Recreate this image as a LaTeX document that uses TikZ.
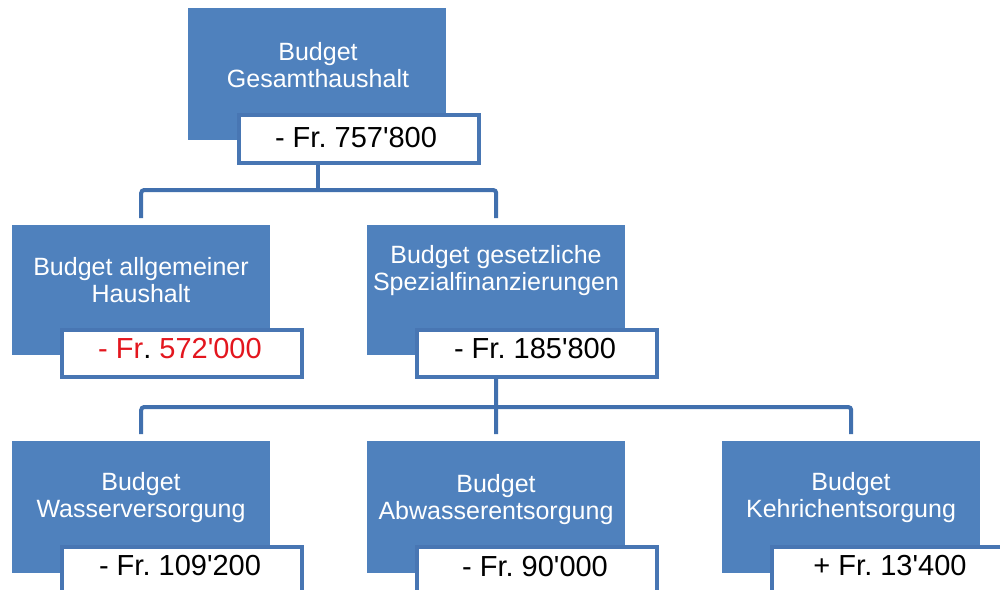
\documentclass[tikz,border=0pt]{standalone}
\usepackage{fontspec}
\setmainfont{Liberation Sans}
\frenchspacing
\newcommand{\apo}{\textquotesingle}
\definecolor{boxblue}{HTML}{4F81BD}
\definecolor{edgeblue}{HTML}{4876B3}
\definecolor{linkblue}{HTML}{4170AE}
\definecolor{valred}{HTML}{E3161E}
\tikzset{
  bluebox/.style={fill=boxblue, draw=none, anchor=north west, inner sep=0pt,
    minimum width=258pt, minimum height=132pt},
  valbox/.style={fill=white, draw=edgeblue, line width=3.5pt, anchor=north west, inner sep=0pt,
    minimum width=240pt, minimum height=48pt},
  title/.style={text=white, align=center, anchor=north, inner sep=0pt,
    font=\fontsize{25}{27.5}\selectfont},
  value/.style={text=black, anchor=base, inner sep=0pt,
    font=\fontsize{29}{32}\selectfont},
  conn/.style={draw=linkblue, line width=4pt, rounded corners=3pt}
}
\begin{document}
\begin{tikzpicture}[x=1pt,y=-1pt]
\useasboundingbox (0,0) rectangle (1000,589);
\clip (0,0) rectangle (1000,589);
\fill[white] (0,0) rectangle (1000,589);

% top
\node[bluebox] (b0) at (188,8) {};
\node[valbox] (v0) at (237,113) {};
\node[title] (t0) at (318,41.8) {Budget\\Gesamthaushalt};
\node[value] (n0) at (356,147) {- Fr. 757\apo 800};

% middle left
\node[bluebox, minimum height=130pt] (b1) at (12,225) {};
\node[valbox, minimum height=47pt] (v1) at (60,328) {};
\node[title] (t1) at (141,256.8) {Budget allgemeiner\\Haushalt};
\node[value] (n1) at (180,358) {{\color{valred}- Fr}. {\color{valred}572\apo 000}};

% middle right
\node[bluebox, minimum height=130pt] (b2) at (367,225) {};
\node[valbox, minimum height=47pt] (v2) at (415,328) {};
\node[title] (t2) at (496,244.8) {Budget gesetzliche\\Spezialfinanzierungen};
\node[value] (n2) at (535,358) {- Fr. 185\apo 800};

% bottom
\node[bluebox] (b3) at (12,441) {};
\node[valbox, minimum height=60pt] (v3) at (60,545) {};
\node[title] (t3) at (141,471.8) {Budget\\Wasserversorgung};
\node[value] (n3) at (180,575) {- Fr. 109\apo 200};

\node[bluebox] (b4) at (367,441) {};
\node[valbox, minimum height=60pt] (v4) at (415,545) {};
\node[title] (t4) at (496,473.8) {Budget\\Abwasserentsorgung};
\node[value] (n4) at (535,576) {- Fr. 90\apo 000};

\node[bluebox] (b5) at (722,441) {};
\node[valbox, minimum height=60pt] (v5) at (770,545) {};
\node[title] (t5) at (851,471.8) {Budget\\Kehrichentsorgung};
\node[value] (n5) at (890,575) {+ Fr. 13\apo 400};

% connectors
\coordinate (j0) at (318,190);
\coordinate (j1) at (496,407);
\draw[conn, rounded corners=0pt] (j0 |- v0.south) -- (j0);
\draw[conn] ([yshift=7pt]b1.north) |- (j0) -| ([yshift=7pt]b2.north);
\draw[conn, rounded corners=0pt] (j1 |- v2.south) -- ([yshift=7pt]b4.north);
\draw[conn] ([yshift=7pt]b3.north) |- (j1) -| ([yshift=7pt]b5.north);
\end{tikzpicture}
\end{document}
